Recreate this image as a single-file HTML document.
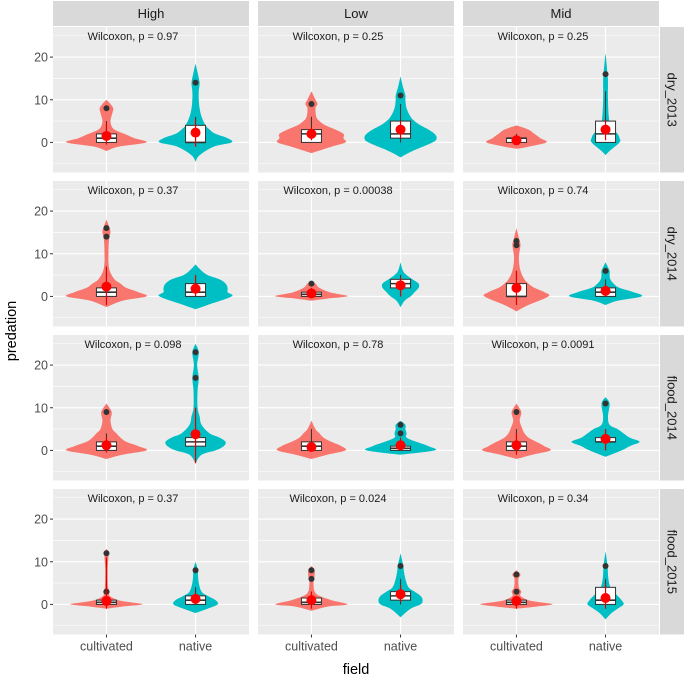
<!DOCTYPE html>
<html><head><meta charset="utf-8"><style>
body{margin:0;background:#fff}
svg{display:block;font-family:"Liberation Sans",Arial,sans-serif}
</style></head><body>
<svg id="chart" width="685" height="679" viewBox="0 0 685 679" xmlns="http://www.w3.org/2000/svg"></svg>
<script>
const colLabels = ["High","Low","Mid"];
const rowLabels = ["dry_2013","dry_2014","flood_2014","flood_2015"];
const groups = ["cultivated","native"];
const yTicks = [0,10,20];
const pLabels = [
 ["Wilcoxon, p = 0.97","Wilcoxon, p = 0.25","Wilcoxon, p = 0.25"],
 ["Wilcoxon, p = 0.37","Wilcoxon, p = 0.00038","Wilcoxon, p = 0.74"],
 ["Wilcoxon, p = 0.098","Wilcoxon, p = 0.78","Wilcoxon, p = 0.0091"],
 ["Wilcoxon, p = 0.37","Wilcoxon, p = 0.024","Wilcoxon, p = 0.34"]];
// profiles: [value, relative width] ; indexed [row][col][group]
const profiles = [
 [[[[-2,0],[-1,0.3],[0,1],[1,0.7],[2,0.45],[3,0.2],[4,0.12],[5,0.1],[6,0.12],[7,0.15],[8,0.17],[9,0.1],[10,0]],
   [[-4.5,0],[-3,0.1],[-1,0.45],[0,0.9],[1,0.8],[2,0.5],[3,0.35],[4,0.25],[6,0.15],[8,0.1],[10,0.08],[12,0.08],[14,0.1],[16,0.06],[18.5,0]]],
  [[[-2.5,0],[-1,0.5],[0,0.85],[1,0.8],[2,0.8],[3,0.6],[4,0.35],[5,0.2],[6,0.12],[8,0.1],[9,0.15],[10,0.1],[12,0]],
   [[-3.5,0],[-2,0.3],[0,0.8],[1,0.9],[2,0.85],[3,0.7],[4,0.5],[5,0.35],[6,0.25],[8,0.15],[10,0.12],[11,0.12],[13,0.06],[15.5,0]]],
  [[[-1.5,0],[-1,0.3],[0,0.75],[1,0.6],[2,0.45],[3,0.3],[4,0]],
   [[-3,0],[-2,0.1],[0,0.35],[1,0.35],[2,0.3],[3,0.2],[4,0.12],[6,0.08],[10,0.06],[14,0.06],[16,0.05],[21,0]]]],
 [[[[-2.5,0],[-1,0.4],[0,1],[1,0.8],[2,0.5],[3,0.35],[4,0.2],[6,0.08],[8,0.05],[10,0.05],[13,0.06],[15,0.1],[16,0.08],[18,0]],
   [[-3,0],[-2,0.3],[0,0.9],[1,0.8],[2,0.8],[3,0.75],[4,0.6],[5,0.3],[6,0.15],[7.5,0]]],
  [[[-1,0],[-0.5,0.4],[0,0.9],[0.5,0.7],[1,0.45],[2,0.2],[3,0.1],[3.5,0]],
   [[-2.5,0],[-1,0.1],[0,0.25],[1,0.35],[2,0.45],[3,0.45],[4,0.3],[5,0.15],[6,0.06],[8,0]]],
  [[[-3.5,0],[-2,0.3],[0,0.8],[1,0.7],[2,0.45],[3,0.3],[4,0.2],[6,0.1],[9,0.06],[12,0.1],[13,0.08],[16,0]],
   [[-2,0],[-1,0.3],[0,0.9],[1,0.7],[2,0.35],[3,0.2],[4,0.12],[5,0.1],[6,0.1],[8,0]]]],
 [[[[-2,0],[-1,0.4],[0,1],[1,0.8],[2,0.5],[3,0.35],[4,0.25],[5,0.15],[7,0.1],[9,0.13],[11,0]],
   [[-3,0],[-1,0.15],[0,0.5],[1,0.7],[2,0.75],[3,0.6],[4,0.35],[6,0.15],[8,0.1],[10,0.05],[14,0.05],[17,0.08],[20,0.04],[23,0.08],[25,0]]],
  [[[-2,0],[-1,0.4],[0,0.85],[1,0.75],[2,0.5],[3,0.3],[4,0.2],[5,0.1],[7,0]],
   [[-1,0],[0,0.85],[1,0.7],[2,0.4],[3,0.15],[4,0.15],[5,0.12],[6,0.12],[7,0]]],
  [[[-2,0],[-1,0.4],[0,0.85],[1,0.7],[2,0.5],[3,0.3],[4,0.2],[5,0.15],[7,0.08],[9,0.12],[11,0]],
   [[-1.5,0],[0,0.4],[1,0.6],[2,0.85],[3,0.6],[4,0.45],[5,0.3],[6,0.1],[8,0.06],[11,0.1],[12.5,0]]]],
 [[[[-1,0],[-0.5,0.4],[0,0.9],[0.5,0.6],[1,0.3],[2,0.08],[3,0.08],[4,0.04],[8,0.03],[12,0.05],[13,0]],
   [[-2,0],[-1,0.3],[0,0.55],[1,0.5],[2,0.3],[3,0.15],[5,0.08],[7,0.06],[8,0.06],[10,0]]],
  [[[-1.5,0],[-0.5,0.4],[0,0.9],[1,0.5],[2,0.2],[3,0.08],[5,0.05],[6,0.07],[8,0.08],[9,0]],
   [[-3,0],[-1,0.25],[0,0.5],[1,0.55],[2,0.5],[3,0.35],[4,0.2],[6,0.12],[8,0.08],[9,0.07],[12,0]]],
  [[[-1,0],[-0.5,0.5],[0,0.9],[0.5,0.6],[1,0.3],[2,0.1],[3,0.12],[4,0.06],[6,0.05],[7,0.1],[8,0]],
   [[-3.5,0],[-2,0.15],[-1,0.3],[0,0.45],[1,0.4],[2,0.3],[3,0.2],[4,0.12],[6,0.07],[9,0.05],[12.5,0]]]]];
// box stats [lo,q1,med,q3,hi]
const boxes = [
 [[[0,0,1,2,5],[0,0,0,4,6]],[[0,0,2,3,6],[0,1,2,5,9]],[[0,0,1,1,2],[0,0,2,5,12]]],
 [[[0,0,1,2,7],[0,0,1,3,5]],[[0,0,0.5,1,2],[0,2,3,4,5]],[[0,0,0,3,6],[0,0,1,2,4]]],
 [[[0,0,1,2,4],[0,1,2,3,6]],[[0,0,1,2,5],[0,0,0.5,1,2]],[[0,0,1,2,5],[0,2,2,3,5]]],
 [[[0,0,0.5,1,2],[0,0,1,2,4]],[[0,0,0.5,1.5,3],[0,1,2,3,6]],[[0,0,0.5,1,2],[0,0,1,4,6]]]];
const means = [[[1.5,2.3],[2,3],[0.5,3]],[[2.3,1.8],[0.7,2.6],[2,1.3]],[[1.2,3.8],[0.8,1.2],[1.2,2.7]],[[0.8,1.3],[1,2.4],[0.8,1.5]]];
const errs = [
 [[[-0.5,4.5],[-1,5.5]],[[0.5,3.5],[1,5]],[[0,1],[0.5,5.5]]],
 [[[-2,7],[0,5]],[[0,1.5],[0,4.5]],[[-2,6],[0,3]]],
 [[[-0.5,3],[-3,10]],[[0,2],[0,3]],[[-1,4],[0,5]]],
 [[[-1,11],[0,3]],[[-1,3],[0.5,4.5]],[[-1,2],[-1,5]]]];
const outliers = [
 [[[8],[14]],[[9],[11]],[[],[16]]],
 [[[14,16],[]],[[3],[]],[[12,13],[6]]],
 [[[9],[17,23]],[[],[4,6]],[[9],[11]]],
 [[[3,12],[8]],[[6,8],[9]],[[3,7],[9]]]];

const NS="http://www.w3.org/2000/svg";
const svg=document.getElementById('chart');
function mk(tag,attrs,parent){const e=document.createElementNS(NS,tag);for(const k in attrs)e.setAttribute(k,attrs[k]);(parent||svg).appendChild(e);return e;}
const PL=53,PW=196,PITCHX=205,PT=27,PH=145.5,PITCHY=154;
const yMin=-7.05,yMax=27.05;
const fills=["#F8766D","#00BFC4"];
function xScale(c,v){return PL+c*PITCHX+(v-0.4)/2.2*PW;}
function yScale(r,v){return PT+r*PITCHY+PH-(v-yMin)/(yMax-yMin)*PH;}
const unitPx=PW/2.2, maxHalf=0.45*unitPx;
function smoothPath(pts){let d="";for(let i=0;i<pts.length-1;i++){const p0=pts[Math.max(0,i-1)],p1=pts[i],p2=pts[i+1],p3=pts[Math.min(pts.length-1,i+2)];
 const c1=[p1[0]+(p2[0]-p0[0])/6,p1[1]+(p2[1]-p0[1])/6],c2=[p2[0]-(p3[0]-p1[0])/6,p2[1]-(p3[1]-p1[1])/6];
 d+=` C${c1[0].toFixed(1)},${c1[1].toFixed(1)} ${c2[0].toFixed(1)},${c2[1].toFixed(1)} ${p2[0].toFixed(1)},${p2[1].toFixed(1)}`;}return d;}

// column strips
colLabels.forEach((l,c)=>{
 const g=mk('g',{});
 
 
 mk('rect',{x:PL+c*PITCHX,y:1,width:PW,height:25,fill:"#D9D9D9"},g);
 mk('text',{x:PL+c*PITCHX+PW/2,y:18,'text-anchor':'middle','font-size':13,fill:"#1A1A1A"},g).textContent=l;
});
rowLabels.forEach((l,r)=>{
 const g=mk('g',{});
 
 
 const y0=PT+r*PITCHY;
 mk('rect',{x:PL+2*PITCHX+PW+1,y:y0,width:24,height:PH,fill:"#D9D9D9"},g);
 const cx=PL+2*PITCHX+PW+13,cy=y0+PH/2;
 mk('text',{x:cx,y:cy,'text-anchor':'middle','dominant-baseline':'central','font-size':13,fill:"#1A1A1A",transform:`rotate(90 ${cx} ${cy})`},g).textContent=l;
});

for(let r=0;r<4;r++)for(let c=0;c<3;c++){
 const pg=mk('g',{});
 
 
 const x0=PL+c*PITCHX,y0=PT+r*PITCHY;
 mk('rect',{x:x0,y:y0,width:PW,height:PH,fill:"#EBEBEB"},pg);
 [-5,5,15,25].forEach(v=>mk('line',{x1:x0,x2:x0+PW,y1:yScale(r,v),y2:yScale(r,v),stroke:"#fff","stroke-width":0.6},pg));
 yTicks.forEach(v=>mk('line',{x1:x0,x2:x0+PW,y1:yScale(r,v),y2:yScale(r,v),stroke:"#fff","stroke-width":1.2},pg));
 [1,2].forEach(v=>mk('line',{x1:xScale(c,v),x2:xScale(c,v),y1:y0,y2:y0+PH,stroke:"#fff","stroke-width":1.2},pg));
 const t=mk('text',{x:x0+80,y:y0+13,'text-anchor':'middle','font-size':11,fill:"#1A1A1A"},pg);
 t.textContent=pLabels[r][c];
 
 
 for(let g=0;g<2;g++){
  const cx=xScale(c,g+1);
  const prof=profiles[r][c][g];
  const right=prof.map(p=>[cx+p[1]*maxHalf,yScale(r,p[0])]);
  const left=prof.slice().reverse().map(p=>[cx-p[1]*maxHalf,yScale(r,p[0])]);
  const d=`M${right[0][0]},${right[0][1]}`+smoothPath(right)+smoothPath(left)+"Z";
  const v=mk('path',{d:d,fill:fills[g]},pg);
  
  
  const b=boxes[r][c][g],bw=10;
  mk('line',{x1:cx,x2:cx,y1:yScale(r,b[0]),y2:yScale(r,b[4]),stroke:"#333","stroke-width":1},pg);
  const bx=mk('rect',{x:cx-bw,y:yScale(r,b[3]),width:2*bw,height:Math.max(0.5,yScale(r,b[1])-yScale(r,b[3])),fill:"#fff",stroke:"#333","stroke-width":1},pg);
  
  
  mk('line',{x1:cx-bw,x2:cx+bw,y1:yScale(r,b[2]),y2:yScale(r,b[2]),stroke:"#333","stroke-width":1.6},pg);
  outliers[r][c][g].forEach(o=>{const p=mk('circle',{cx:cx,cy:yScale(r,o),r:3,fill:"#333"},pg);
   
   });
  const e=errs[r][c][g];
  mk('line',{x1:cx,x2:cx,y1:yScale(r,e[0]),y2:yScale(r,e[1]),stroke:"#E00000","stroke-width":1.2},pg);
  const m=mk('circle',{cx:cx,cy:yScale(r,means[r][c][g]),r:5,fill:"#FF0000"},pg);
  
  
 }
 if(c===0){yTicks.forEach(v=>{mk('line',{x1:x0-3,x2:x0,y1:yScale(r,v),y2:yScale(r,v),stroke:"#333"});
  const tl=mk('text',{x:x0-5,y:yScale(r,v)+4.5,'text-anchor':'end','font-size':12.5,fill:"#4D4D4D"});
  tl.textContent=v;
  
  });}
 if(r===3){groups.forEach((gname,g)=>{const x=xScale(c,g+1),yb=y0+PH;
  mk('line',{x1:x,x2:x,y1:yb,y2:yb+3,stroke:"#333"});
  const tl=mk('text',{x:x,y:yb+16,'text-anchor':'middle','font-size':12.5,fill:"#4D4D4D"});
  tl.textContent=gname;
  
  });}
}
const xt=mk('text',{x:PL+(3*PITCHX-9)/2,y:674,'text-anchor':'middle','font-size':14.5,fill:"#000"});
xt.textContent="field";


const yt=mk('text',{x:16,y:331,'text-anchor':'middle','font-size':14.5,fill:"#000",transform:"rotate(-90 16 331)"});
yt.textContent="predation";


</script>
</body></html>
